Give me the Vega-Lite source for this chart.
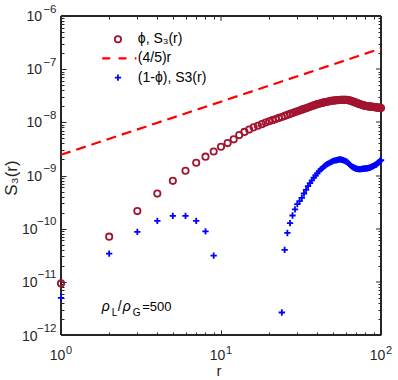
{
"$schema": "https://vega.github.io/schema/vega-lite/v6.json",
"width": 320, "height": 319,
"autosize": {"type": "none"},
"padding": {"left": 61, "top": 16, "right": 17, "bottom": 45},
"background": "white",
"config": {"view": {"stroke": null}, "font": "Liberation Sans",
  "axis": {"grid": false, "domainColor": "#262626", "tickColor": "#262626", "labelColor": "#262626", "titleColor": "#262626", "labelFont": "Liberation Sans", "titleFont": "Liberation Sans", "titleFontWeight": "normal", "labelFlush": false, "labelOverlap": false}},
"data": {"values": [
{"r":1,"S":9.33e-12,"s":"phi"},{"r":2,"S":7.08e-11,"s":"phi"},{"r":3,"S":2.14e-10,"s":"phi"},{"r":4,"S":4.57e-10,"s":"phi"},{"r":5,"S":7.94e-10,"s":"phi"},
{"r":6,"S":1.23e-9,"s":"phi"},{"r":7,"S":1.74e-9,"s":"phi"},{"r":8,"S":2.26e-9,"s":"phi"},{"r":9,"S":2.82e-9,"s":"phi"},{"r":10,"S":3.47e-9,"s":"phi"},
{"r":11,"S":4.07e-9,"s":"phi"},{"r":12,"S":4.79e-9,"s":"phi"},{"r":13,"S":5.75e-9,"s":"phi"},{"r":14,"S":6.61e-9,"s":"phi"},{"r":15,"S":7.31e-9,"s":"phi"},
{"r":16,"S":8.04e-9,"s":"phi"},{"r":17,"S":8.63e-9,"s":"phi"},{"r":18,"S":9.25e-9,"s":"phi"},{"r":19,"S":9.89e-9,"s":"phi"},{"r":20,"S":1.05e-8,"s":"phi"},
{"r":21,"S":1.10e-8,"s":"phi"},{"r":22,"S":1.15e-8,"s":"phi"},{"r":23,"S":1.21e-8,"s":"phi"},{"r":24,"S":1.26e-8,"s":"phi"},{"r":25,"S":1.32e-8,"s":"phi"},
{"r":26,"S":1.38e-8,"s":"phi"},{"r":27,"S":1.44e-8,"s":"phi"},{"r":28,"S":1.50e-8,"s":"phi"},{"r":29,"S":1.56e-8,"s":"phi"},{"r":30,"S":1.61e-8,"s":"phi"},
{"r":31,"S":1.67e-8,"s":"phi"},{"r":32,"S":1.73e-8,"s":"phi"},{"r":33,"S":1.79e-8,"s":"phi"},{"r":34,"S":1.84e-8,"s":"phi"},{"r":35,"S":1.90e-8,"s":"phi"},
{"r":36,"S":1.96e-8,"s":"phi"},{"r":37,"S":2.02e-8,"s":"phi"},{"r":38,"S":2.08e-8,"s":"phi"},{"r":39,"S":2.14e-8,"s":"phi"},{"r":40,"S":2.20e-8,"s":"phi"},
{"r":41,"S":2.24e-8,"s":"phi"},{"r":42,"S":2.28e-8,"s":"phi"},{"r":43,"S":2.32e-8,"s":"phi"},{"r":44,"S":2.37e-8,"s":"phi"},{"r":45,"S":2.41e-8,"s":"phi"},
{"r":46,"S":2.44e-8,"s":"phi"},{"r":47,"S":2.47e-8,"s":"phi"},{"r":48,"S":2.51e-8,"s":"phi"},{"r":49,"S":2.54e-8,"s":"phi"},{"r":50,"S":2.56e-8,"s":"phi"},
{"r":51,"S":2.58e-8,"s":"phi"},{"r":52,"S":2.59e-8,"s":"phi"},{"r":53,"S":2.61e-8,"s":"phi"},{"r":54,"S":2.62e-8,"s":"phi"},{"r":55,"S":2.63e-8,"s":"phi"},
{"r":56,"S":2.64e-8,"s":"phi"},{"r":57,"S":2.65e-8,"s":"phi"},{"r":58,"S":2.66e-8,"s":"phi"},{"r":59,"S":2.66e-8,"s":"phi"},{"r":60,"S":2.65e-8,"s":"phi"},
{"r":61,"S":2.64e-8,"s":"phi"},{"r":62,"S":2.62e-8,"s":"phi"},{"r":63,"S":2.60e-8,"s":"phi"},{"r":64,"S":2.57e-8,"s":"phi"},{"r":65,"S":2.53e-8,"s":"phi"},
{"r":66,"S":2.49e-8,"s":"phi"},{"r":67,"S":2.45e-8,"s":"phi"},{"r":68,"S":2.41e-8,"s":"phi"},{"r":69,"S":2.37e-8,"s":"phi"},{"r":70,"S":2.33e-8,"s":"phi"},
{"r":71,"S":2.29e-8,"s":"phi"},{"r":72,"S":2.25e-8,"s":"phi"},{"r":73,"S":2.22e-8,"s":"phi"},{"r":74,"S":2.19e-8,"s":"phi"},{"r":75,"S":2.16e-8,"s":"phi"},
{"r":76,"S":2.13e-8,"s":"phi"},{"r":77,"S":2.11e-8,"s":"phi"},{"r":78,"S":2.08e-8,"s":"phi"},{"r":79,"S":2.05e-8,"s":"phi"},{"r":80,"S":2.04e-8,"s":"phi"},
{"r":81,"S":2.03e-8,"s":"phi"},{"r":82,"S":2.01e-8,"s":"phi"},{"r":83,"S":2.00e-8,"s":"phi"},{"r":84,"S":1.995e-8,"s":"phi"},{"r":85,"S":1.99e-8,"s":"phi"},
{"r":86,"S":1.98e-8,"s":"phi"},{"r":87,"S":1.97e-8,"s":"phi"},{"r":88,"S":1.96e-8,"s":"phi"},{"r":89,"S":1.95e-8,"s":"phi"},{"r":90,"S":1.94e-8,"s":"phi"},
{"r":91,"S":1.93e-8,"s":"phi"},{"r":92,"S":1.92e-8,"s":"phi"},{"r":93,"S":1.92e-8,"s":"phi"},{"r":94,"S":1.91e-8,"s":"phi"},{"r":95,"S":1.90e-8,"s":"phi"},
{"r":96,"S":1.89e-8,"s":"phi"},{"r":97,"S":1.88e-8,"s":"phi"},{"r":98,"S":1.88e-8,"s":"phi"},{"r":99,"S":1.87e-8,"s":"phi"},{"r":100,"S":1.86e-8,"s":"phi"},
{"r":1,"S":2.45e-9,"s":"line"},{"r":100,"S":2.45e-7,"s":"line"},
{"r":1,"S":5.0e-12,"s":"blue"},{"r":2,"S":3.4e-11,"s":"blue"},{"r":3,"S":8.7e-11,"s":"blue"},{"r":4,"S":1.4e-10,"s":"blue"},{"r":5,"S":1.74e-10,"s":"blue"},
{"r":6,"S":1.74e-10,"s":"blue"},{"r":7,"S":1.4e-10,"s":"blue"},{"r":8,"S":8.9e-11,"s":"blue"},{"r":9,"S":3.1e-11,"s":"blue"},
{"r":24,"S":2.65e-12,"s":"blue"},{"r":25,"S":4.0e-11,"s":"blue"},{"r":26,"S":8.3e-11,"s":"blue"},{"r":27,"S":1.27e-10,"s":"blue"},{"r":28,"S":1.77e-10,"s":"blue"},
{"r":29,"S":2.3e-10,"s":"blue"},{"r":30,"S":2.9e-10,"s":"blue"},{"r":31,"S":3.3e-10,"s":"blue"},{"r":32,"S":3.79e-10,"s":"blue"},{"r":33,"S":4.59e-10,"s":"blue"},
{"r":34,"S":5.36e-10,"s":"blue"},{"r":35,"S":6.30e-10,"s":"blue"},{"r":36,"S":7.16e-10,"s":"blue"},{"r":37,"S":8.11e-10,"s":"blue"},{"r":38,"S":9.14e-10,"s":"blue"},
{"r":39,"S":1.00e-9,"s":"blue"},{"r":40,"S":1.10e-9,"s":"blue"},{"r":41,"S":1.21e-9,"s":"blue"},{"r":42,"S":1.30e-9,"s":"blue"},{"r":43,"S":1.38e-9,"s":"blue"},
{"r":44,"S":1.47e-9,"s":"blue"},{"r":45,"S":1.56e-9,"s":"blue"},{"r":46,"S":1.64e-9,"s":"blue"},{"r":47,"S":1.69e-9,"s":"blue"},{"r":48,"S":1.75e-9,"s":"blue"},
{"r":49,"S":1.80e-9,"s":"blue"},{"r":50,"S":1.86e-9,"s":"blue"},{"r":51,"S":1.90e-9,"s":"blue"},{"r":52,"S":1.93e-9,"s":"blue"},{"r":53,"S":1.95e-9,"s":"blue"},
{"r":54,"S":1.98e-9,"s":"blue"},{"r":55,"S":2.01e-9,"s":"blue"},{"r":56,"S":2.00e-9,"s":"blue"},{"r":57,"S":1.97e-9,"s":"blue"},{"r":58,"S":1.94e-9,"s":"blue"},
{"r":59,"S":1.90e-9,"s":"blue"},{"r":60,"S":1.86e-9,"s":"blue"},{"r":61,"S":1.82e-9,"s":"blue"},{"r":62,"S":1.74e-9,"s":"blue"},{"r":63,"S":1.66e-9,"s":"blue"},
{"r":64,"S":1.59e-9,"s":"blue"},{"r":65,"S":1.52e-9,"s":"blue"},{"r":66,"S":1.46e-9,"s":"blue"},{"r":67,"S":1.43e-9,"s":"blue"},{"r":68,"S":1.40e-9,"s":"blue"},
{"r":69,"S":1.37e-9,"s":"blue"},{"r":70,"S":1.34e-9,"s":"blue"},{"r":71,"S":1.33e-9,"s":"blue"},{"r":72,"S":1.32e-9,"s":"blue"},{"r":73,"S":1.32e-9,"s":"blue"},
{"r":74,"S":1.32e-9,"s":"blue"},{"r":75,"S":1.32e-9,"s":"blue"},{"r":76,"S":1.33e-9,"s":"blue"},{"r":77,"S":1.33e-9,"s":"blue"},{"r":78,"S":1.34e-9,"s":"blue"},
{"r":79,"S":1.35e-9,"s":"blue"},{"r":80,"S":1.36e-9,"s":"blue"},{"r":81,"S":1.36e-9,"s":"blue"},{"r":82,"S":1.37e-9,"s":"blue"},{"r":83,"S":1.38e-9,"s":"blue"},
{"r":84,"S":1.39e-9,"s":"blue"},{"r":85,"S":1.40e-9,"s":"blue"},{"r":86,"S":1.42e-9,"s":"blue"},{"r":87,"S":1.45e-9,"s":"blue"},{"r":88,"S":1.47e-9,"s":"blue"},
{"r":89,"S":1.50e-9,"s":"blue"},{"r":90,"S":1.52e-9,"s":"blue"},{"r":91,"S":1.55e-9,"s":"blue"},{"r":92,"S":1.58e-9,"s":"blue"},{"r":93,"S":1.60e-9,"s":"blue"},
{"r":94,"S":1.63e-9,"s":"blue"},{"r":95,"S":1.69e-9,"s":"blue"},{"r":96,"S":1.73e-9,"s":"blue"},{"r":97,"S":1.79e-9,"s":"blue"},{"r":98,"S":1.84e-9,"s":"blue"},
{"r":99,"S":1.91e-9,"s":"blue"},{"r":100,"S":1.95e-9,"s":"blue"}
]},
"layer": [
{
 "transform": [{"filter": "datum.s == 'line'"}],
 "mark": {"type": "line", "color": "#FF0000", "strokeWidth": 2.2, "strokeDash": [10, 6]},
 "encoding": {
  "x": {"field": "r", "type": "quantitative", "scale": {"type": "log", "domain": [1, 100], "nice": false},
        "axis": {"orient": "top", "values": [1, 10, 100], "labels": false, "domain": true, "domainWidth": 2, "translate": 0, "ticks": true, "tickSize": -5, "tickWidth": 1, "title": null}},
  "y": {"field": "S", "type": "quantitative", "scale": {"type": "log", "domain": [1e-12, 1e-6], "nice": false},
        "axis": {"orient": "right", "values": [1e-12, 1e-11, 1e-10, 1e-9, 1e-8, 1e-7, 1e-6], "labels": false, "domain": true, "domainWidth": 2, "translate": 0, "ticks": true, "tickSize": -5, "tickWidth": 1, "title": null}}
 }
},
{
 "transform": [{"filter": "datum.s != 'line'"}],
 "mark": {"type": "point", "filled": false, "size": 40, "strokeWidth": 1.8, "opacity": 1},
 "encoding": {
  "x": {"field": "r", "type": "quantitative", "scale": {"type": "log", "domain": [1, 100], "nice": false},
        "axis": {"orient": "bottom", "values": [1, 10, 100], "labelExpr": "'10'", "ticks": false, "domain": true, "domainWidth": 2, "translate": 0, "labelFontSize": 14, "labelBaseline": "alphabetic", "labelPadding": 25, "labelOffset": -3.5,
                 "title": "r", "titleFontSize": 15, "titleBaseline": "alphabetic", "titleX": 158, "titleY": 41}},
  "y": {"field": "S", "type": "quantitative", "scale": {"type": "log", "domain": [1e-12, 1e-6], "nice": false},
        "axis": {"orient": "left", "values": [1e-9, 1e-8, 1e-7, 1e-6], "labelExpr": "'10'", "ticks": false, "domain": true, "domainWidth": 2, "translate": 0, "labelFontSize": 14, "labelPadding": 19, "labelOffset": 1,
                 "title": "S₃(r)", "titleFontSize": 17, "titleBaseline": "alphabetic", "titleX": -44, "titleY": 162}},
  "color": {"field": "s", "type": "nominal", "scale": {"domain": ["phi", "blue"], "range": ["#A2142F", "#0000FF"]}, "legend": null},
  "shape": {"field": "s", "type": "nominal", "scale": {"domain": ["phi", "blue"], "range": ["circle", "M-1,0H1M0,-1V1"]}, "legend": null}
 }
},
{
 "data": {"values": [{}]},
 "mark": {"type": "text", "text": "ρ", "fontStyle": "italic", "fontSize": 14, "align": "left", "baseline": "alphabetic", "color": "#000000", "dx": 0},
 "encoding": {
  "x": {"datum": 1.797, "type": "quantitative", "scale": {"type": "log", "domain": [1, 100], "nice": false},
        "axis": {"orient": "bottom", "values": [1, 10, 100], "labels": false, "domain": false, "ticks": true, "tickSize": -5, "tickWidth": 1, "title": null}},
  "y": {"datum": 2.85e-12, "type": "quantitative", "scale": {"type": "log", "domain": [1e-12, 1e-6], "nice": false},
        "axis": {"orient": "left", "values": [1e-12, 1e-11, 1e-10, 1e-9, 1e-8, 1e-7, 1e-6], "labels": false, "domain": false, "ticks": true, "tickSize": -5, "tickWidth": 1, "title": null}}
 }
},
{
 "data": {"values": [{}]},
 "mark": {"type": "text", "text": "L", "fontSize": 10, "align": "left", "baseline": "alphabetic", "color": "#000000", "dx": 10, "dy": 5},
 "encoding": {
  "x": {"datum": 1.797, "type": "quantitative", "scale": {"type": "log", "domain": [1, 100], "nice": false},
        "axis": {"orient": "bottom", "values": [2, 3, 4, 5, 6, 7, 8, 9, 20, 30, 40, 50, 60, 70, 80, 90], "labels": false, "domain": false, "ticks": true, "tickSize": -3, "tickWidth": 1, "title": null}},
  "y": {"datum": 2.85e-12, "type": "quantitative", "scale": {"type": "log", "domain": [1e-12, 1e-6], "nice": false},
        "axis": {"orient": "left", "values": [2e-12, 3e-12, 4e-12, 5e-12, 6e-12, 7e-12, 8e-12, 9e-12, 2e-11, 3e-11, 4e-11, 5e-11, 6e-11, 7e-11, 8e-11, 9e-11, 2e-10, 3e-10, 4e-10, 5e-10, 6e-10, 7e-10, 8e-10, 9e-10, 2e-9, 3e-9, 4e-9, 5e-9, 6e-9, 7e-9, 8e-9, 9e-9, 2e-8, 3e-8, 4e-8, 5e-8, 6e-8, 7e-8, 8e-8, 9e-8, 2e-7, 3e-7, 4e-7, 5e-7, 6e-7, 7e-7, 8e-7, 9e-7], "labels": false, "domain": false, "ticks": true, "tickSize": -3, "tickWidth": 1, "title": null}}
 }
},
{
 "data": {"values": [{}]},
 "mark": {"type": "text", "text": "/", "fontSize": 14, "align": "left", "baseline": "alphabetic", "color": "#000000", "dx": 16},
 "encoding": {
  "x": {"datum": 1.797, "type": "quantitative", "scale": {"type": "log", "domain": [1, 100], "nice": false},
        "axis": {"orient": "top", "values": [2, 3, 4, 5, 6, 7, 8, 9, 20, 30, 40, 50, 60, 70, 80, 90], "labels": false, "domain": false, "ticks": true, "tickSize": -3, "tickWidth": 1, "title": null}},
  "y": {"datum": 2.85e-12, "type": "quantitative", "scale": {"type": "log", "domain": [1e-12, 1e-6], "nice": false},
        "axis": {"orient": "right", "values": [2e-12, 3e-12, 4e-12, 5e-12, 6e-12, 7e-12, 8e-12, 9e-12, 2e-11, 3e-11, 4e-11, 5e-11, 6e-11, 7e-11, 8e-11, 9e-11, 2e-10, 3e-10, 4e-10, 5e-10, 6e-10, 7e-10, 8e-10, 9e-10, 2e-9, 3e-9, 4e-9, 5e-9, 6e-9, 7e-9, 8e-9, 9e-9, 2e-8, 3e-8, 4e-8, 5e-8, 6e-8, 7e-8, 8e-8, 9e-8, 2e-7, 3e-7, 4e-7, 5e-7, 6e-7, 7e-7, 8e-7, 9e-7], "labels": false, "domain": false, "ticks": true, "tickSize": -3, "tickWidth": 1, "title": null}}
 }
},
{
 "data": {"values": [{}]},
 "mark": {"type": "text", "text": "ρ", "fontStyle": "italic", "fontSize": 14, "align": "left", "baseline": "alphabetic", "color": "#000000", "dx": 21},
 "encoding": {
  "x": {"datum": 1.797, "type": "quantitative", "scale": {"type": "log", "domain": [1, 100], "nice": false},
        "axis": {"orient": "bottom", "values": [1, 10, 100], "labelExpr": "'' + round(log(datum.value)/LN10)", "ticks": false, "domain": false, "labelFontSize": 11, "labelBaseline": "alphabetic", "labelPadding": 18, "labelOffset": 7.5, "title": null}},
  "y": {"datum": 2.85e-12, "type": "quantitative", "scale": {"type": "log", "domain": [1e-12, 1e-6], "nice": false},
        "axis": {"orient": "left", "values": [1e-12, 1e-11, 1e-10, 1e-9, 1e-8, 1e-7, 1e-6], "labelExpr": "'−' + (-round(log(datum.value)/LN10))", "ticks": false, "domain": false, "labelFontSize": 11.5, "labelPadding": 5, "labelOffset": -7, "title": null}}
 }
},
{
 "data": {"values": [{}]},
 "mark": {"type": "text", "text": "G", "fontSize": 10, "align": "left", "baseline": "alphabetic", "color": "#000000", "dx": 31, "dy": 5},
 "encoding": {
  "x": {"datum": 1.797, "type": "quantitative", "scale": {"type": "log", "domain": [1, 100], "nice": false}, "axis": null},
  "y": {"datum": 2.85e-12, "type": "quantitative", "scale": {"type": "log", "domain": [1e-12, 1e-6], "nice": false},
        "axis": {"orient": "left", "values": [1e-12, 1e-11, 1e-10], "labelExpr": "'10'", "ticks": false, "domain": false, "labelFontSize": 14, "labelPadding": 24, "labelOffset": 1, "title": null}}
 }
},
{
 "data": {"values": [{}]},
 "mark": {"type": "text", "text": "=500", "fontSize": 13, "align": "left", "baseline": "alphabetic", "color": "#000000", "dx": 40.5},
 "encoding": {
  "x": {"datum": 1.797, "type": "quantitative", "scale": {"type": "log", "domain": [1, 100], "nice": false}, "axis": null},
  "y": {"datum": 2.85e-12, "type": "quantitative", "scale": {"type": "log", "domain": [1e-12, 1e-6], "nice": false}, "axis": null}
 }
},
{
 "data": {"values": [{}]},
 "mark": {"type": "point", "shape": "circle", "filled": false, "size": 40, "strokeWidth": 1.8, "opacity": 1, "color": "#A2142F"},
 "encoding": {
  "x": {"datum": 2.27, "type": "quantitative", "scale": {"type": "log", "domain": [1, 100], "nice": false}, "axis": null},
  "y": {"datum": 3.65e-7, "type": "quantitative", "scale": {"type": "log", "domain": [1e-12, 1e-6], "nice": false}, "axis": null}
 }
},
{
 "data": {"values": [{}]},
 "mark": {"type": "rule", "color": "#FF0000", "strokeWidth": 2.2, "strokeDash": [8, 8.3]},
 "encoding": {
  "x": {"datum": 1.81, "type": "quantitative", "scale": {"type": "log", "domain": [1, 100], "nice": false}, "axis": null},
  "x2": {"datum": 2.96},
  "y": {"datum": 1.60e-7, "type": "quantitative", "scale": {"type": "log", "domain": [1e-12, 1e-6], "nice": false}, "axis": null}
 }
},
{
 "data": {"values": [{}]},
 "mark": {"type": "point", "shape": "M-1,0H1M0,-1V1", "filled": false, "size": 40, "strokeWidth": 1.8, "opacity": 1, "color": "#0000FF"},
 "encoding": {
  "x": {"datum": 2.27, "type": "quantitative", "scale": {"type": "log", "domain": [1, 100], "nice": false}, "axis": null},
  "y": {"datum": 6.92e-8, "type": "quantitative", "scale": {"type": "log", "domain": [1e-12, 1e-6], "nice": false}, "axis": null}
 }
},
{
 "data": {"values": [{}]},
 "mark": {"type": "text", "text": "ϕ, S₃(r)", "fontSize": 14, "align": "left", "baseline": "middle", "color": "#000000"},
 "encoding": {
  "x": {"datum": 3.02, "type": "quantitative", "scale": {"type": "log", "domain": [1, 100], "nice": false}, "axis": null},
  "y": {"datum": 3.65e-7, "type": "quantitative", "scale": {"type": "log", "domain": [1e-12, 1e-6], "nice": false}, "axis": null}
 }
},
{
 "data": {"values": [{}]},
 "mark": {"type": "text", "text": "(4/5)r", "fontSize": 14, "align": "left", "baseline": "middle", "color": "#000000"},
 "encoding": {
  "x": {"datum": 3.02, "type": "quantitative", "scale": {"type": "log", "domain": [1, 100], "nice": false}, "axis": null},
  "y": {"datum": 1.60e-7, "type": "quantitative", "scale": {"type": "log", "domain": [1e-12, 1e-6], "nice": false}, "axis": null}
 }
},
{
 "data": {"values": [{}]},
 "mark": {"type": "text", "text": "(1-ϕ), S3(r)", "fontSize": 14, "align": "left", "baseline": "middle", "color": "#000000"},
 "encoding": {
  "x": {"datum": 3.02, "type": "quantitative", "scale": {"type": "log", "domain": [1, 100], "nice": false}, "axis": null},
  "y": {"datum": 6.92e-8, "type": "quantitative", "scale": {"type": "log", "domain": [1e-12, 1e-6], "nice": false}, "axis": null}
 }
}
],
"resolve": {"axis": {"x": "independent", "y": "independent"}}
}
